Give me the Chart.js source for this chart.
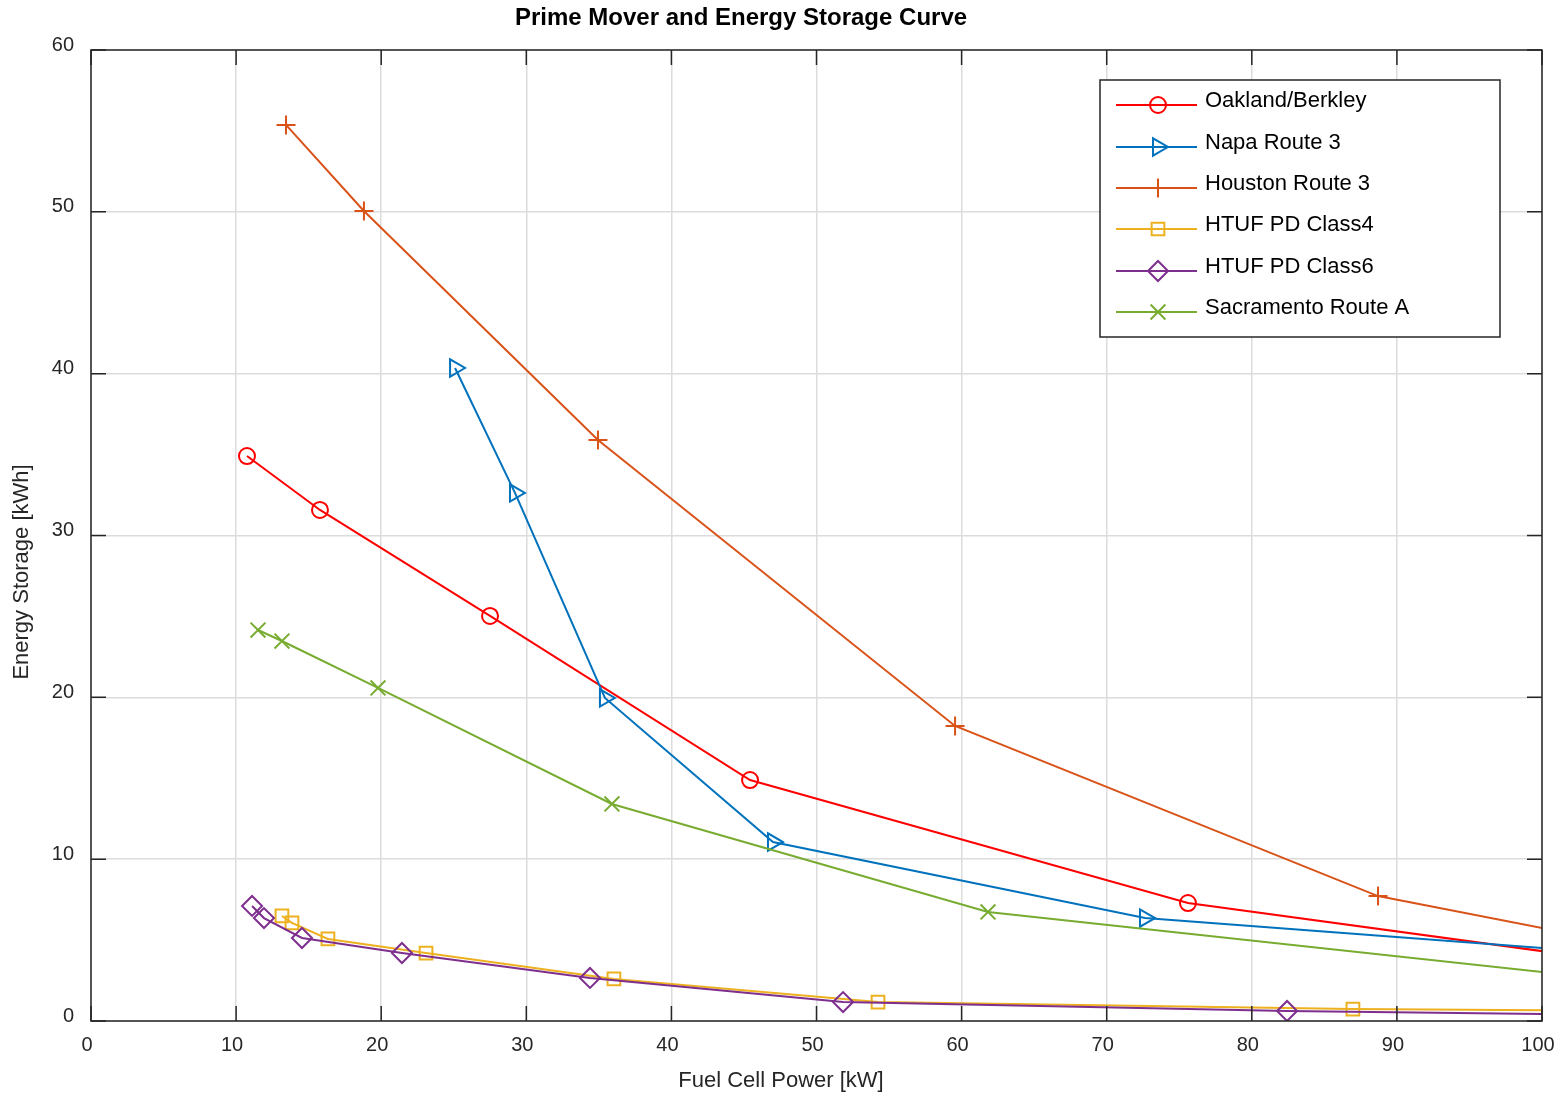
<!DOCTYPE html>
<html>
<head>
<meta charset="utf-8">
<title>Prime Mover and Energy Storage Curve</title>
<script src="https://cdn.jsdelivr.net/npm/chart.js@4"></script>
<style>
  body { margin: 0; background: #fff; }
  #wrap { width: 1565px; height: 1097px; }
</style>
</head>
<body>
<div id="wrap"><canvas id="curve-chart"></canvas></div>
<script>
// values (x = fuel cell power kW, y = energy storage kWh)
// the last point of each series lies past 100 kW so the line runs to the frame
var oaklandX = [10.75, 15.78, 27.5, 45.42, 75.6, 110];
var oaklandY = [34.91, 31.58, 25.03, 14.89, 7.29, 3.1];

var napaX = [25.09, 29.22, 35.42, 47.0, 72.64, 110];
var napaY = [40.35, 32.63, 19.96, 11.06, 6.36, 3.83];

var houstonX = [13.44, 18.81, 34.94, 59.55, 88.7, 110];
var houstonY = [55.37, 50.05, 35.9, 18.23, 7.72, 4.0];

var class4X = [13.16, 13.85, 16.33, 23.09, 36.04, 54.24, 86.97, 110];
var class4Y = [6.49, 6.06, 5.07, 4.2, 2.6, 1.17, 0.74, 0.6];

var class6X = [11.1, 11.92, 14.54, 21.43, 34.39, 51.83, 82.43, 110];
var class6Y = [7.11, 6.36, 5.13, 4.2, 2.66, 1.17, 0.62, 0.32];

var sacramentoX = [11.51, 13.16, 19.78, 35.9, 61.82, 110];
var sacramentoY = [24.16, 23.48, 20.58, 13.41, 6.74, 2.06];

var seriesNames = ['Oakland/Berkley', 'Napa Route 3', 'Houston Route 3',
                   'HTUF PD Class4', 'HTUF PD Class6', 'Sacramento Route A'];
var xTicks = [0, 10, 20, 30, 40, 50, 60, 70, 80, 90, 100];
var yTicks = [0, 10, 20, 30, 40, 50, 60];

var FONT = '"Liberation Sans", Arial, Helvetica, sans-serif';
var INK = '#262626';

function toPoints(xs, ys) {
    return xs.map(function (x, i) { return { x: x, y: ys[i] }; });
}

function makeSeries(idx, xs, ys, color, style, radius, rotation) {
    return {
        label: seriesNames[idx],
        data: toPoints(xs, ys),
        showLine: true,
        borderColor: color,
        backgroundColor: 'rgba(0,0,0,0)',
        borderWidth: 2,
        pointStyle: style,
        pointRadius: radius,
        pointRotation: rotation || 0,
        pointBorderWidth: 2,
        pointBorderColor: color,
        pointBackgroundColor: 'rgba(0,0,0,0)',
        tension: 0,
        order: 5 - idx
    };
}

var datasets = [
    makeSeries(0, oaklandX, oaklandY, '#ff0000', 'circle', 8),
    makeSeries(1, napaX, napaY, '#0072bd', 'triangle', 10, 90),
    makeSeries(2, houstonX, houstonY, '#d95319', 'cross', 9.5),
    makeSeries(3, class4X, class4Y, '#edb120', 'rect', 9),
    makeSeries(4, class6X, class6Y, '#7e2f8e', 'rectRot', 10),
    makeSeries(5, sacramentoX, sacramentoY, '#77ac30', 'crossRot', 10.5)
];

// frame, inward ticks, titles and the boxed legend (MATLAB look)
var framePlugin = {
    id: 'frame',
    afterDraw: function (chart) {
        var ctx = chart.ctx;
        var a = chart.chartArea;
        var xs = chart.scales.x;
        var ys = chart.scales.y;
        ctx.save();

        ctx.strokeStyle = INK;
        ctx.lineWidth = 1.5;
        ctx.strokeRect(a.left, a.top, a.right - a.left, a.bottom - a.top);
        ctx.beginPath();
        xTicks.forEach(function (v) {
            var px = xs.getPixelForValue(v);
            ctx.moveTo(px, a.bottom); ctx.lineTo(px, a.bottom - 15);
            ctx.moveTo(px, a.top); ctx.lineTo(px, a.top + 15);
        });
        yTicks.forEach(function (v) {
            var py = ys.getPixelForValue(v);
            ctx.moveTo(a.left, py); ctx.lineTo(a.left + 15, py);
            ctx.moveTo(a.right, py); ctx.lineTo(a.right - 15, py);
        });
        ctx.stroke();

        // titles
        ctx.fillStyle = '#000';
        ctx.textAlign = 'center';
        ctx.textBaseline = 'middle';
        ctx.font = 'bold 24px ' + FONT;
        ctx.fillText('Prime Mover and Energy Storage Curve', 741, 18);
        ctx.fillStyle = INK;
        ctx.font = '22px ' + FONT;
        ctx.fillText('Fuel Cell Power [kW]', 781, 1081);
        ctx.save();
        ctx.translate(22, 572);
        ctx.rotate(-Math.PI / 2);
        ctx.fillText('Energy Storage [kWh]', 0, 0);
        ctx.restore();

        // legend
        var bx = 1100, by = 80, bw = 400, bh = 257;
        ctx.fillStyle = '#fff';
        ctx.fillRect(bx, by, bw, bh);
        ctx.strokeStyle = INK;
        ctx.lineWidth = 1.5;
        ctx.strokeRect(bx, by, bw, bh);
        var rowY = [105, 147, 188, 229, 271, 312];
        chart.data.datasets.forEach(function (ds, i) {
            var y = rowY[i];
            ctx.strokeStyle = ds.borderColor;
            ctx.lineWidth = 2;
            ctx.beginPath();
            ctx.moveTo(1116, y);
            ctx.lineTo(1197, y);
            ctx.stroke();
            ctx.fillStyle = 'rgba(0,0,0,0)';
            Chart.helpers.drawPoint(ctx, {
                pointStyle: ds.pointStyle,
                radius: ds.pointRadius,
                rotation: ds.pointRotation,
                borderWidth: 2
            }, 1158, y);
            ctx.fillStyle = '#000';
            ctx.textAlign = 'left';
            ctx.textBaseline = 'middle';
            ctx.font = '22px ' + FONT;
            ctx.fillText(ds.label, 1205, y - 4);
        });

        ctx.restore();
    }
};

var ctx = document.getElementById('curve-chart').getContext('2d');

var curveChart = new Chart(ctx, {
    type: 'scatter',
    data: { datasets: datasets },
    plugins: [framePlugin],
    options: {
        responsive: true,
        maintainAspectRatio: false,
        animation: false,
        layout: { padding: { top: 50, right: 23, left: 0, bottom: 0 } },
        plugins: {
            legend: { display: false },
            tooltip: { enabled: false },
            title: { display: false }
        },
        scales: {
            x: {
                type: 'linear',
                min: 0,
                max: 100,
                afterFit: function (scale) {
                    scale.height = 76;
                    scale.paddingLeft = 0;
                    scale.paddingRight = 0;
                },
                afterBuildTicks: function (scale) {
                    scale.ticks = xTicks.map(function (v) { return { value: v }; });
                },
                border: { display: false },
                grid: { color: '#dcdcdc', lineWidth: 1.5, drawTicks: false },
                ticks: {
                    color: INK,
                    font: { family: FONT, size: 20 },
                    padding: 12,
                    labelOffset: -4,
                    maxRotation: 0
                }
            },
            y: {
                type: 'linear',
                min: 0,
                max: 60,
                afterFit: function (scale) {
                    scale.width = 91;
                    scale.paddingTop = 0;
                    scale.paddingBottom = 0;
                },
                afterBuildTicks: function (scale) {
                    scale.ticks = yTicks.map(function (v) { return { value: v }; });
                },
                border: { display: false },
                grid: { color: '#dcdcdc', lineWidth: 1.5, drawTicks: false },
                ticks: {
                    color: INK,
                    font: { family: FONT, size: 20 },
                    padding: 17,
                    labelOffset: -5
                }
            }
        }
    }
});
</script>
</body>
</html>
